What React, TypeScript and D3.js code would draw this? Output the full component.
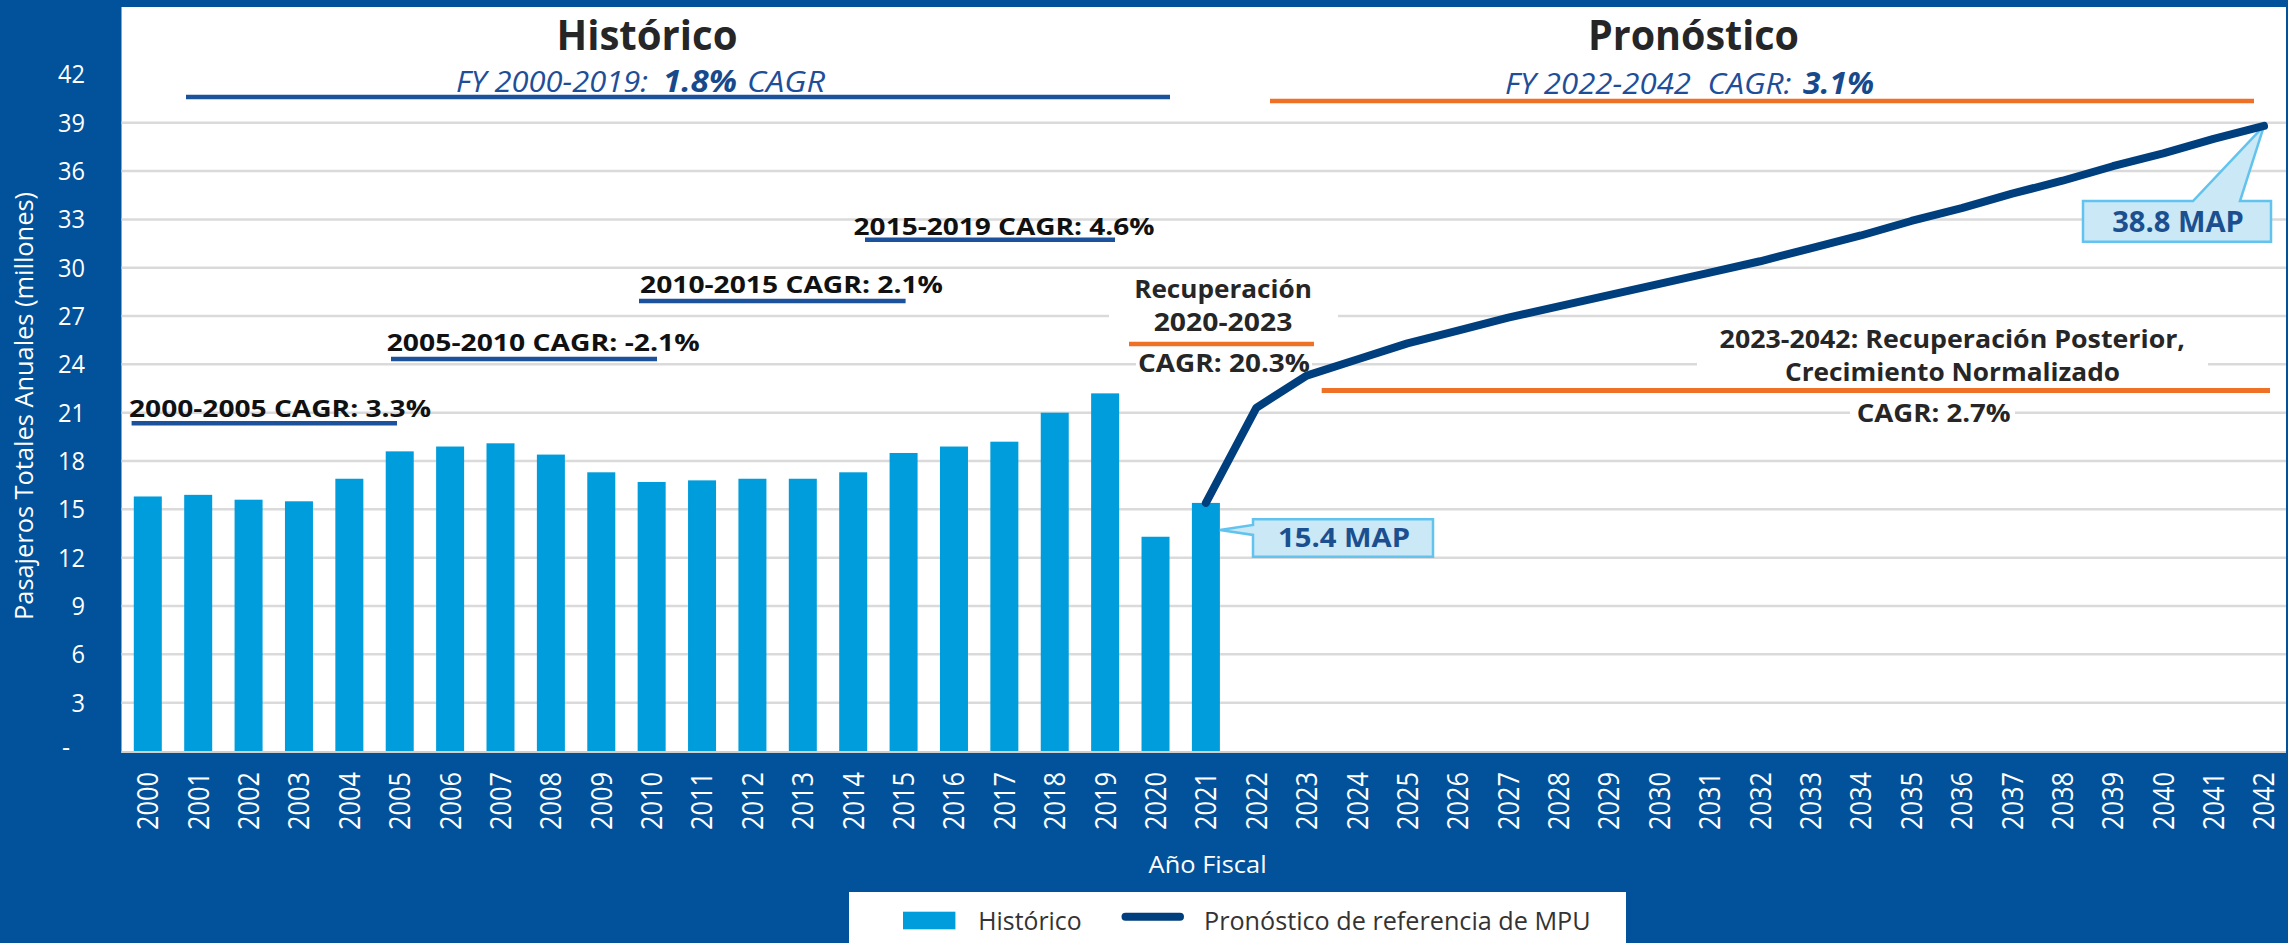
import React from "react";
import * as d3 from "d3";

// ---------- data ----------
const years = [
  "2000","2001","2002","2003","2004","2005","2006","2007","2008","2009",
  "2010","2011","2012","2013","2014","2015","2016","2017","2018","2019",
  "2020","2021","2022","2023","2024","2025","2026","2027","2028","2029",
  "2030","2031","2032","2033","2034","2035","2036","2037","2038","2039",
  "2040","2041","2042",
];
const histYears = years.slice(0, 22);
const histValues = [
  15.8, 15.9, 15.6, 15.5, 16.9, 18.6, 18.9, 19.1, 18.4, 17.3,
  16.7, 16.8, 16.9, 16.9, 17.3, 18.5, 18.9, 19.2, 21.0, 22.2,
  13.3, 15.4,
];
const fcYears = years.slice(21);
const fcValues = [
  15.4, 21.3, 23.3, 24.3, 25.3, 26.1, 26.9, 27.6, 28.3, 29.0,
  29.7, 30.4, 31.2, 32.0, 32.9, 33.7, 34.6, 35.4, 36.3, 37.1,
  38.0, 38.8,
];
const yTicks = [0, 3, 6, 9, 12, 15, 18, 21, 24, 27, 30, 33, 36, 39, 42];

// ---------- style ----------
const W = 2288;
const H = 943;
const FONT = "'Open Sans', 'Noto Sans', sans-serif";
const BG = "#01519B";
const BAR = "#009DDC";
const LINE = "#003F7E";
const ORANGE = "#EF7126";
const UBLUE = "#1C519B";
const GRID = "#DADADA";
const DARK = "#262626";

const panel = { x0: 121.5, x1: 2286, y0: 7, y1: 753 };

type TProps = {
  x: number; y: number; s: string; len?: number; size: number;
  weight?: number | string; anchor?: string; fill?: string; italic?: boolean;
  transform?: string; dy?: string;
};
const T = ({ x, y, s, len, size, weight = 400, anchor = "start", fill = DARK, italic = false, transform, dy }: TProps) => (
  <text
    x={x}
    y={y}
    dy={dy}
    transform={transform}
    textAnchor={anchor}
    fontFamily={FONT}
    fontSize={size}
    fontWeight={weight}
    fontStyle={italic ? "italic" : "normal"}
    fill={fill}
    textLength={len}
    lengthAdjust={len ? "spacingAndGlyphs" : undefined}
  >
    {s}
  </text>
);

export default function App() {
  const x = d3.scalePoint<string>().domain(years).range([147.8, 2264]);
  const y = d3.scaleLinear().domain([0, 42]).range([751, 74.4]);
  const bw = 28;

  const fcData = fcYears.map((yr, i) => ({ yr, v: fcValues[i] }));
  const linePath = d3
    .line<{ yr: string; v: number }>()
    .x((d) => x(d.yr) as number)
    .y((d) => y(d.v))(fcData) as string;

  const gridTicks = yTicks.filter((t) => t > 0 && t < 42);

  // callout 15.4
  const c1tipX = (x("2021") as number) + bw / 2;
  const c1tipY = y(15.4) + 27;
  const c1 = { x0: 1253, x1: 1433, y0: 519.3, y1: 556.7 };
  const c1Path = `M${c1.x0},${c1.y0} L${c1.x1},${c1.y0} L${c1.x1},${c1.y1} L${c1.x0},${c1.y1} L${c1.x0},${c1tipY + 5} L${c1tipX},${c1tipY} L${c1.x0},${c1tipY - 5} Z`;

  // callout 38.8
  const c2tipX = x("2042") as number;
  const c2tipY = y(38.8);
  const c2 = { x0: 2083, x1: 2271, y0: 201, y1: 241.7 };
  const c2Path = `M${c2.x0},${c2.y0} L2193,${c2.y0} L${c2tipX},${c2tipY} L2240,${c2.y0} L${c2.x1},${c2.y0} L${c2.x1},${c2.y1} L${c2.x0},${c2.y1} Z`;

  return (
    <svg
      width={W}
      height={H}
      viewBox={`0 0 ${W} ${H}`}
      style={{ position: "absolute", left: 0, top: 0, display: "block" }}
    >
      <rect x={0} y={0} width={W} height={H} fill={BG} />
      <rect x={panel.x0} y={panel.y0} width={panel.x1 - panel.x0} height={panel.y1 - panel.y0} fill="#FFFFFF" />

      {/* gridlines */}
      {gridTicks.map((t) => (
        <line key={t} x1={panel.x0} x2={panel.x1} y1={y(t)} y2={y(t)} stroke={GRID} strokeWidth={2.5} />
      ))}
      <line x1={panel.x0} x2={panel.x1} y1={752} y2={752} stroke="#CFCFCF" strokeWidth={2} />

      {/* y tick labels */}
      {yTicks.map((t) =>
        t === 0 ? (
          <T key={t} x={70} y={y(t)} dy="0.2em" s="-" size={25} anchor="end" fill="#FFFFFF" />
        ) : (
          <T key={t} x={85} y={y(t)} dy="0.36em" s={String(t)} size={25} anchor="end" fill="#FFFFFF" len={t < 10 ? 13.5 : 27} />
        )
      )}

      {/* y title */}
      <T
        x={0}
        y={0}
        s="Pasajeros Totales Anuales (millones)"
        size={26}
        anchor="middle"
        fill="#FFFFFF"
        len={428}
        transform={`translate(33,406) rotate(-90)`}
      />

      {/* x tick labels */}
      {years.map((yr) => (
        <T
          key={yr}
          x={0}
          y={0}
          dy="0.36em"
          s={yr}
          size={29}
          anchor="end"
          fill="#FFFFFF"
          len={58}
          transform={`translate(${x(yr)},772) rotate(-90)`}
        />
      ))}
      <T x={1207.6} y={873.3} s="Año Fiscal" size={23} anchor="middle" fill="#FFFFFF" len={118} />

      {/* bars */}
      {histYears.map((yr, i) => (
        <rect
          key={yr}
          x={(x(yr) as number) - bw / 2}
          y={y(histValues[i])}
          width={bw}
          height={y(0) - y(histValues[i])}
          fill={BAR}
        />
      ))}

      {/* titles */}
      <T x={647} y={50} s="Histórico" size={42} weight={700} anchor="middle" len={181} />
      <T x={1693.5} y={50} s="Pronóstico" size={42} weight={700} anchor="middle" len={211} />

      <T x={456} y={91.7} s="FY 2000-2019:" size={30} italic fill="#1F4E99" len={192} />
      <T x={663} y={91.7} s="1.8%" size={30} italic weight={700} fill="#174A8C" len={74} />
      <T x={747} y={91.7} s="CAGR" size={30} italic fill="#1F4E99" len={78} />
      <line x1={186} x2={1170} y1={97} y2={97} stroke={UBLUE} strokeWidth={4.5} />

      <T x={1505} y={94} s="FY 2022-2042" size={30} italic fill="#1F4E99" len={186} />
      <T x={1707.5} y={94} s="CAGR:" size={30} italic fill="#1F4E99" len={84} />
      <T x={1803} y={94} s="3.1%" size={30} italic weight={700} fill="#174A8C" len={71} />
      <line x1={1270} x2={2254} y1={101} y2={101} stroke={ORANGE} strokeWidth={4.5} />

      {/* period annotations */}
      <T x={129} y={416.7} s="2000-2005 CAGR: 3.3%" size={24} weight={700} fill="#111111" len={302} />
      <line x1={131.6} x2={397} y1={423.3} y2={423.3} stroke={UBLUE} strokeWidth={4.5} />
      <T x={386.7} y={350.7} s="2005-2010 CAGR: -2.1%" size={24} weight={700} fill="#111111" len={313} />
      <line x1={391} x2={657} y1={359} y2={359} stroke={UBLUE} strokeWidth={4.5} />
      <T x={640} y={292.5} s="2010-2015 CAGR: 2.1%" size={24} weight={700} fill="#111111" len={303} />
      <line x1={639} x2={905.6} y1={301} y2={301} stroke={UBLUE} strokeWidth={4.5} />
      <T x={853.6} y={235} s="2015-2019 CAGR: 4.6%" size={24} weight={700} fill="#111111" len={301} />
      <line x1={865} x2={1115} y1={239.7} y2={239.7} stroke={UBLUE} strokeWidth={4.5} />

      {/* recovery block */}
      <rect x={1109} y={272} width={229} height={68} fill="#FFFFFF" />
      <rect x={1136} y={350} width={176} height={27} fill="#FFFFFF" />
      <T x={1223} y={298} s="Recuperación" size={25} weight={700} anchor="middle" len={177.7} />
      <T x={1223} y={331} s="2020-2023" size={25} weight={700} anchor="middle" len={138.7} />
      <line x1={1129} x2={1314} y1={344} y2={344} stroke={ORANGE} strokeWidth={4.5} />
      <T x={1224} y={371.7} s="CAGR: 20.3%" size={25} weight={700} anchor="middle" len={172} />

      {/* post-recovery block */}
      <rect x={1697} y={322} width={511} height={64} fill="#FFFFFF" />
      <rect x={1850} y={400} width={165} height={26} fill="#FFFFFF" />
      <T x={1952.3} y={348.3} s="2023-2042: Recuperación Posterior," size={25.5} weight={700} anchor="middle" len={465.4} />
      <T x={1952.5} y={381} s="Crecimiento Normalizado" size={25.5} weight={700} anchor="middle" len={335} />
      <line x1={1321.7} x2={2270} y1={390.5} y2={390.5} stroke={ORANGE} strokeWidth={5} />
      <T x={1933.7} y={421.7} s="CAGR: 2.7%" size={25.5} weight={700} anchor="middle" len={154} />

      {/* callouts */}
      <path d={c1Path} fill="#CAE8F6" stroke="#62C4EE" strokeWidth={2.5} strokeLinejoin="miter" />
      <T x={1344} y={546.7} s="15.4 MAP" size={26} weight={700} anchor="middle" fill="#1B4F8F" len={132} />
      <path d={c2Path} fill="#CAE8F6" stroke="#62C4EE" strokeWidth={2.5} strokeLinejoin="miter" />
      <T x={2178} y={231.7} s="38.8 MAP" size={28} weight={700} anchor="middle" fill="#1B4F8F" len={131.7} />

      {/* forecast line */}
      <path d={linePath} fill="none" stroke={LINE} strokeWidth={8} strokeLinejoin="round" strokeLinecap="round" />

      {/* legend */}
      <rect x={849} y={892} width={777} height={60} fill="#FFFFFF" />
      <rect x={903} y={911.7} width={52.4} height={17.6} fill={BAR} />
      <T x={978.3} y={930} s="Histórico" size={25} fill="#333333" len={103.3} />
      <line x1={1125.5} x2={1180} y1={916.7} y2={916.7} stroke={LINE} strokeWidth={8} strokeLinecap="round" />
      <T x={1204} y={930} s="Pronóstico de referencia de MPU" size={25} fill="#333333" len={386.6} />
    </svg>
  );
}
